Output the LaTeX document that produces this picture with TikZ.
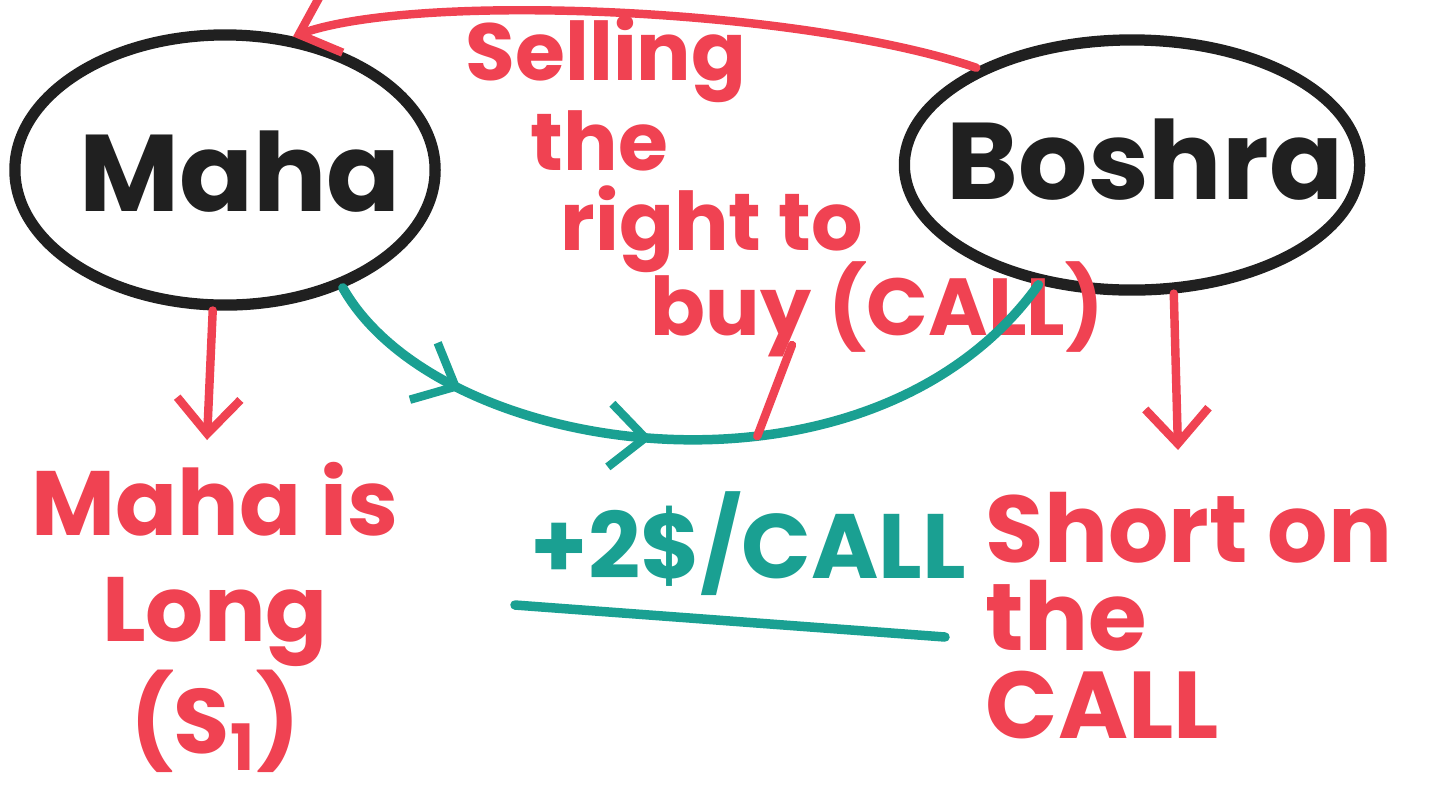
\documentclass[tikz,border=0pt]{standalone}
\usepackage{fontspec}
\setmainfont{Poppins}
\usetikzlibrary{arrows.meta,decorations.markings,shapes.geometric,positioning}

\definecolor{penred}{RGB}{240,66,82}
\definecolor{penteal}{RGB}{26,160,146}
\definecolor{penblack}{RGB}{32,32,32}

\begin{document}
\begin{tikzpicture}[x=0.01cm, y=-0.01cm,
    barb/.tip={Straight Barb[length=10pt, width=18pt, line width=2.4pt]},
    person/.style={draw=penblack, line width=3.2pt, ellipse, inner sep=0pt},
    nametext/.style={text=penblack, font=\fontsize{31}{33}\selectfont\bfseries},
    redpen/.style={draw=penred, line width=2.4pt, line cap=round},
    tealpen/.style={draw=penteal, line width=2.7pt, line cap=round},
    redtext/.style={text=penred, inner sep=0pt, font=\fontsize{23}{25}\selectfont\bfseries},
    tealtext/.style={text=penteal, inner sep=0pt, font=\fontsize{26}{28}\selectfont\bfseries},
    midarrows/.style={postaction={decorate}, decoration={markings,
        mark=at position 0.2 with {\arrow[penteal]{barb}},
        mark=at position 0.45 with {\arrow[penteal]{barb}}}}]

    % frame of the sheet
    \useasboundingbox (0,0) rectangle (1434,796);

    % the two people
    \node[person, minimum width=4.2cm, minimum height=2.7cm] (maha) at (225,170) {};
    \node[nametext] (mahaname) at (240,172) {Maha};
    \node[person, minimum width=4.55cm, minimum height=2.5cm] (boshra) at (1132,165) {};
    \node[nametext] (boshraname) at (1145,160) {Boshra};

    % what is sold
    \node[redtext, anchor=base west] (sell1) at (465,80) {Selling};
    \node[redtext, anchor=base west] (sell2) at (530,170) {the};
    \node[redtext, anchor=base west] (sell3) at (560,250) {right to};
    \node[redtext, anchor=base west] (sell4) at (650,335) {buy (CALL)};
    \coordinate (ytail) at (792,345);

    % Boshra -> Maha
    \draw[redpen, -barb] (boshra.148) .. controls (800,8) and (420,-8) .. (maha.63);

    % premium paid to Boshra
    \draw[tealpen, midarrows] (maha.-45) .. controls (440,460) and (870,520) .. (boshra.-128)
        coordinate[pos=0.61] (callpt);
    \draw[redpen] (ytail) -- (callpt);
    \node[tealtext, anchor=base west] (premium) at (530,578) {+2\$/CALL};
    \coordinate (ul1) at (515,605);
    \coordinate (ul2) at (945,637);
    \draw[tealpen] (ul1) -- (ul2);

    % positions
    \coordinate (mahatip) at (207,440);
    \coordinate (boshratip) at (1178,450);
    \draw[redpen, -barb] (maha.265) -- (mahatip);
    \draw[redpen, -barb] (boshra.-72) -- (boshratip);
    \node[redtext, align=center, anchor=north, font=\fontsize{26}{30}\selectfont\bfseries]
        (mahalong) at (215,462) {Maha is\\Long\\(S\textsubscript{1})};
    \node[redtext, align=left, anchor=north west, font=\fontsize{27}{25}\selectfont\bfseries]
        (boshrashort) at (985,492) {Short on\\the\\CALL};

\end{tikzpicture}
\end{document}
